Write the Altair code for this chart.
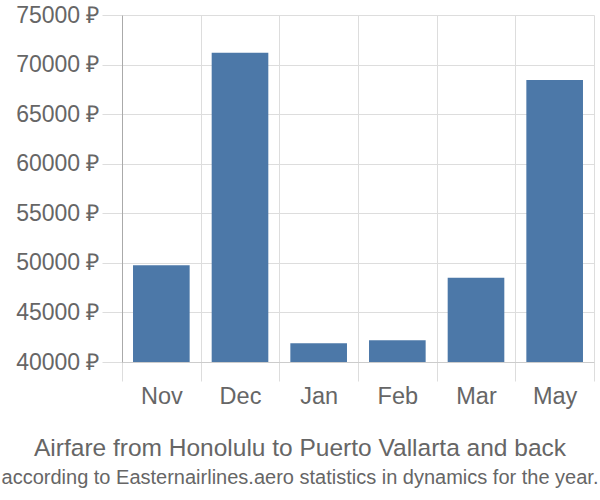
import altair as alt
import pandas as pd

months = ["Nov", "Dec", "Jan", "Feb", "Mar", "May"]
prices = [49750, 71200, 41900, 42200, 48500, 68450]
baseline = [40000] * 6
y_ticks = [40000, 45000, 50000, 55000, 60000, 65000, 70000, 75000]

df = pd.DataFrame({"month": months, "price": prices, "base": baseline})

chart = alt.Chart(df).mark_bar(color="#4c78a8", width=alt.RelativeBandSize(0.72)).encode(
    x=alt.X("month:N", sort=months, title=None,
            scale=alt.Scale(paddingInner=0, paddingOuter=0),
            axis=alt.Axis(labelAngle=0, labelFontSize=23.5, labelColor="#666",
                          labelFont="Liberation Sans", labelPadding=3,
                          tickBand="extent", tickSize=19, tickColor="#ddd",
                          domainColor="#ccc", grid=True, gridColor="#ddd")),
    y=alt.Y("price:Q", title=None,
            scale=alt.Scale(domain=[40000, 75000], zero=False, nice=False),
            axis=alt.Axis(values=y_ticks, labelExpr="format(datum.value,'d') + ' ₽'",
                          labelFontSize=23, labelColor="#666", labelFont="Liberation Sans",
                          labelPadding=3, tickSize=20, tickColor="#ddd",
                          domainColor="#aaa", gridColor="#ddd")),
    y2="base:Q",
).properties(
    width=472, height=347,
    autosize=alt.AutoSizeParams(type="none"),
    padding={"left": 122, "top": 15, "right": 6, "bottom": 138},
    title=alt.TitleParams(
        text="Airfare from Honolulu to Puerto Vallarta and back",
        subtitle="according to Easternairlines.aero statistics in dynamics for the year.",
        orient="bottom", anchor="middle", dx=-58, offset=29,
        fontSize=24.5, font="Liberation Sans", color="#666", fontWeight="normal",
        subtitleFontSize=20, subtitleFont="Liberation Sans", subtitleColor="#666",
        subtitlePadding=7,
    ),
).configure_view(stroke=None)

chart.save("out.html", embed_options={"renderer": "svg", "actions": False})
